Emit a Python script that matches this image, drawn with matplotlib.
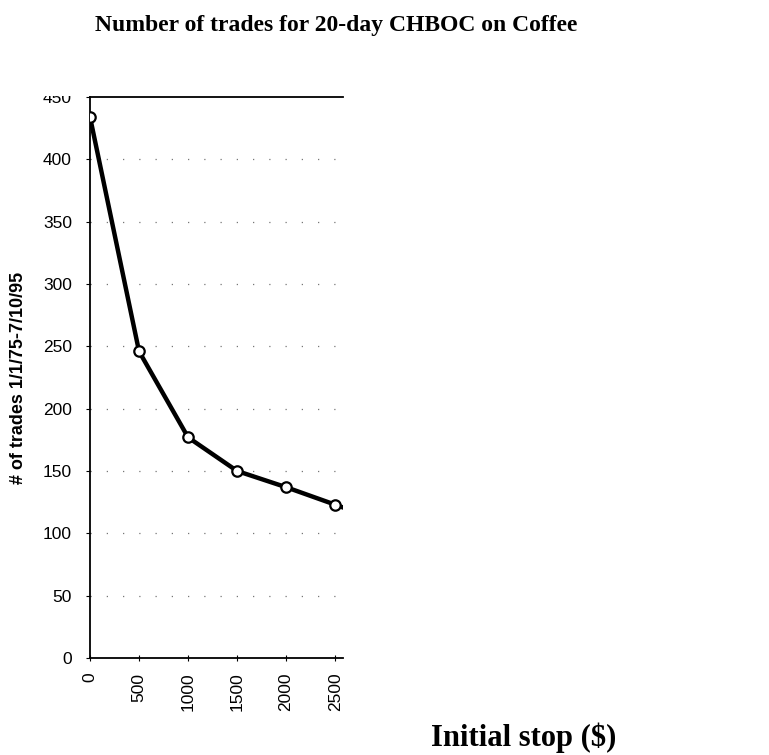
import numpy as np
import matplotlib.pyplot as plt
from matplotlib.patches import Rectangle

# initial stop ($) vs number of trades
stops = [0, 500, 1000, 1500, 2000, 2500, 3000]
trades = [434, 246, 177, 150, 137, 123, 109]
yticks = [0, 50, 100, 150, 200, 250, 300, 350, 400, 450]
xticks = [0, 500, 1000, 1500, 2000, 2500]

fig = plt.figure(figsize=(7.69, 7.55), dpi=100)
ax = fig.add_axes([90/769, 1 - 658/755, (343 - 90)/769, (658 - 97)/755])

ax.plot(stops, trades, color="black", lw=3.2, marker="o", ms=7.5,
        mfc="white", mec="black", mew=1.6, clip_on=True, zorder=3)

ax.set_xlim(0, 2580)
ax.set_ylim(0, 450)
ax.set_yticks(yticks)
ax.set_xticks(xticks)
ax.set_yticklabels([str(v) for v in yticks], family="Liberation Sans", fontsize=12.5)
ax.set_xticklabels([str(v) for v in xticks], family="Liberation Sans", fontsize=12.5,
                   rotation=90)
ax.tick_params(axis="y", direction="out", length=3, width=0.8, pad=10)
ax.tick_params(axis="x", direction="inout", length=5, width=0.8, pad=8)

# sparse dotted gridlines
for v in yticks[1:-1]:
    ax.axhline(v, color="#777777", lw=0.9, ls=(0, (1, 12)), zorder=1)

ax.spines["right"].set_visible(False)
for s in ["top", "left", "bottom"]:
    ax.spines[s].set_linewidth(1.3)

# top of the "450" label is cut off in the source
fig.patches.append(Rectangle((0.0, 1 - 96/755), 88/769, 18/755,
                             transform=fig.transFigure, facecolor="white",
                             edgecolor="none", zorder=10))

fig.text(19/769, 1 - 378/755, "# of trades 1/1/75-7/10/95", rotation=90,
         ha="center", va="center", family="Liberation Sans", fontweight="bold",
         fontsize=13)
fig.text(336/769, 1 - 25/755, "Number of trades for 20-day CHBOC on Coffee",
         ha="center", va="center", family="Liberation Serif", fontweight="bold",
         fontsize=17)
fig.text(524/769, 1 - 738/755, "Initial stop ($)", ha="center", va="center",
         family="Liberation Serif", fontweight="bold", fontsize=22)

fig.savefig("out.png", dpi=100)
